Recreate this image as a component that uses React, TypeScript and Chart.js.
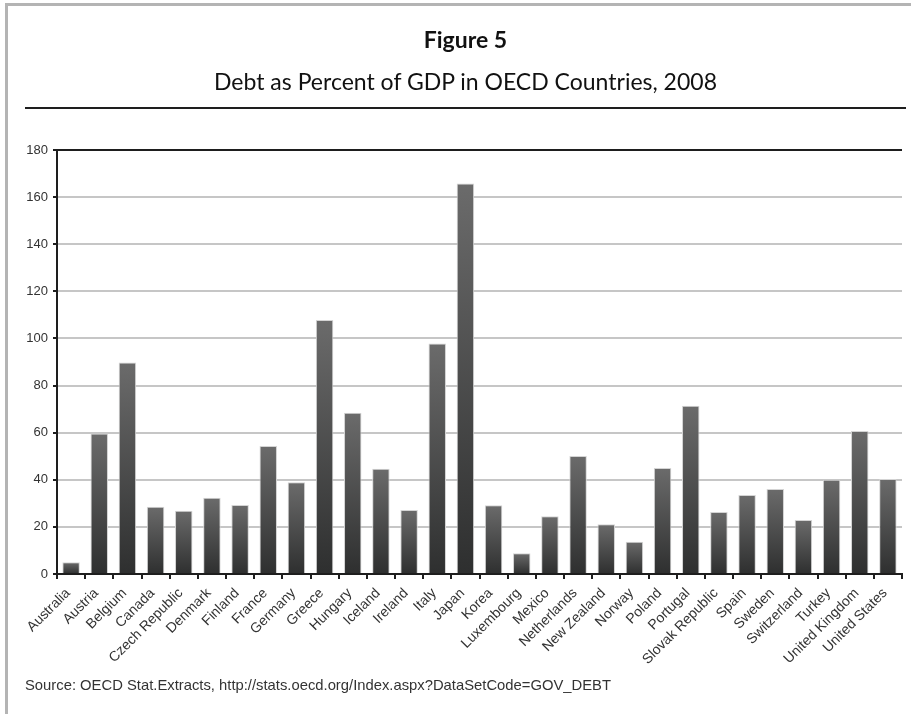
import React, { useEffect, useRef } from 'react';
import { Chart, registerables } from 'chart.js';

Chart.register(...registerables);

const countries = [
  'Australia', 'Austria', 'Belgium', 'Canada', 'Czech Republic', 'Denmark', 'Finland',
  'France', 'Germany', 'Greece', 'Hungary', 'Iceland', 'Ireland', 'Italy', 'Japan',
  'Korea', 'Luxembourg', 'Mexico', 'Netherlands', 'New Zealand', 'Norway', 'Poland',
  'Portugal', 'Slovak Republic', 'Spain', 'Sweden', 'Switzerland', 'Turkey',
  'United Kingdom', 'United States',
];

const debtPctGdp = [
  5.0, 59.6, 89.8, 28.6, 26.9, 32.4, 29.3,
  54.3, 38.9, 107.8, 68.5, 44.7, 27.2, 97.9, 165.8,
  29.2, 8.8, 24.5, 50.1, 21.1, 13.7, 45.0,
  71.4, 26.3, 33.5, 36.1, 22.9, 40.0,
  60.7, 40.3,
];

const yMin = 0;
const yMax = 180;
const yStep = 20;

const titleText = 'Figure 5';
const subtitleText = 'Debt as Percent of GDP in OECD Countries, 2008';
const sourceText = 'Source: OECD Stat.Extracts, http://stats.oecd.org/Index.aspx?DataSetCode=GOV_DEBT';

export default function App() {
  const canvasRef = useRef<HTMLCanvasElement>(null);

  useEffect(() => {
    document.body.style.margin = '0';
    const canvas = canvasRef.current;
    if (!canvas) return;
    const yFont = { family: '"Liberation Sans", Arial, sans-serif', size: 13 };
    const xFont = { family: '"Liberation Sans", Arial, sans-serif', size: 14 };
    const chart = new Chart(canvas, {
      type: 'bar',
      data: {
        labels: countries,
        datasets: [
          {
            data: debtPctGdp,
            backgroundColor: (ctx: any) => {
              const c = ctx.chart;
              const ys = c.scales && c.scales.y;
              if (!ys || ctx.raw == null) return '#4a4a4a';
              const top = ys.getPixelForValue(ctx.raw as number);
              const bottom = ys.getPixelForValue(0);
              if (!isFinite(top) || !isFinite(bottom) || top === bottom) return '#4a4a4a';
              const g = c.ctx.createLinearGradient(0, top, 0, bottom);
              g.addColorStop(0, '#6b6b6b');
              g.addColorStop(1, '#2e2f2f');
              return g;
            },
            borderColor: '#d4d4d4',
            borderWidth: 1,
            borderSkipped: 'bottom',
            barPercentage: 0.62,
            categoryPercentage: 1,
          },
        ],
      },
      options: {
        animation: false,
        responsive: false,
        maintainAspectRatio: false,
        layout: { padding: { left: 7, right: 9, top: 150, bottom: 50 } },
        plugins: {
          legend: { display: false },
          tooltip: { enabled: false },
          title: { display: false },
        },
        scales: {
          x: {
            grid: {
              offset: true,
              drawOnChartArea: false,
              drawTicks: true,
              tickLength: 5,
              color: '#1e1e1e',
              lineWidth: 2,
            },
            border: { color: '#1e1e1e', width: 2 },
            ticks: {
              font: xFont,
              color: '#333333',
              minRotation: 45,
              maxRotation: 45,
              autoSkip: false,
              padding: 6,
              labelOffset: -3,
            },
            afterFit: (s: any) => {
              s.height = 90;
            },
          },
          y: {
            min: yMin,
            max: yMax,
            ticks: { stepSize: yStep, font: yFont, color: '#333333', padding: 5 },
            grid: {
              color: (ctx: any) => (ctx.tick && ctx.tick.value === yMax ? '#1e1e1e' : '#c6c6c6'),
              lineWidth: 2,
              tickLength: 4,
              tickColor: '#1e1e1e',
              drawTicks: true,
            },
            border: { color: '#1e1e1e', width: 2 },
            afterFit: (s: any) => {
              s.width = 50;
            },
          },
        },
      },
    });
    return () => chart.destroy();
  }, []);

  return (
    <div style={{ position: 'relative', width: 911, height: 714, background: '#fff', overflow: 'hidden' }}>
      <div
        style={{
          position: 'absolute',
          left: 5,
          top: 3,
          width: 911,
          height: 720,
          borderTop: '3px solid #b4b4b4',
          borderLeft: '3px solid #b4b4b4',
          boxSizing: 'border-box',
        }}
      />
      <canvas ref={canvasRef} width={911} height={714} style={{ position: 'absolute', left: 0, top: 0 }} />
      <div
        style={{
          position: 'absolute',
          left: 25,
          width: 881,
          top: 25,
          textAlign: 'center',
          fontFamily: 'Lato, "Open Sans", sans-serif',
          fontWeight: 700,
          fontSize: 23,
          lineHeight: '28px',
          color: '#111',
        }}
      >
        {titleText}
      </div>
      <div
        style={{
          position: 'absolute',
          left: 25,
          width: 881,
          top: 67,
          textAlign: 'center',
          fontFamily: 'Lato, "Open Sans", sans-serif',
          fontSize: 23,
          lineHeight: '28px',
          color: '#111',
        }}
      >
        {subtitleText}
      </div>
      <div style={{ position: 'absolute', left: 25, width: 881, top: 107, height: 2, background: '#1e1e1e' }} />
      <div
        style={{
          position: 'absolute',
          left: 25,
          top: 676,
          fontFamily: '"Liberation Sans", Arial, sans-serif',
          fontSize: 14.8,
          lineHeight: '18px',
          color: '#333',
          whiteSpace: 'nowrap',
        }}
      >
        {sourceText}
      </div>
    </div>
  );
}
